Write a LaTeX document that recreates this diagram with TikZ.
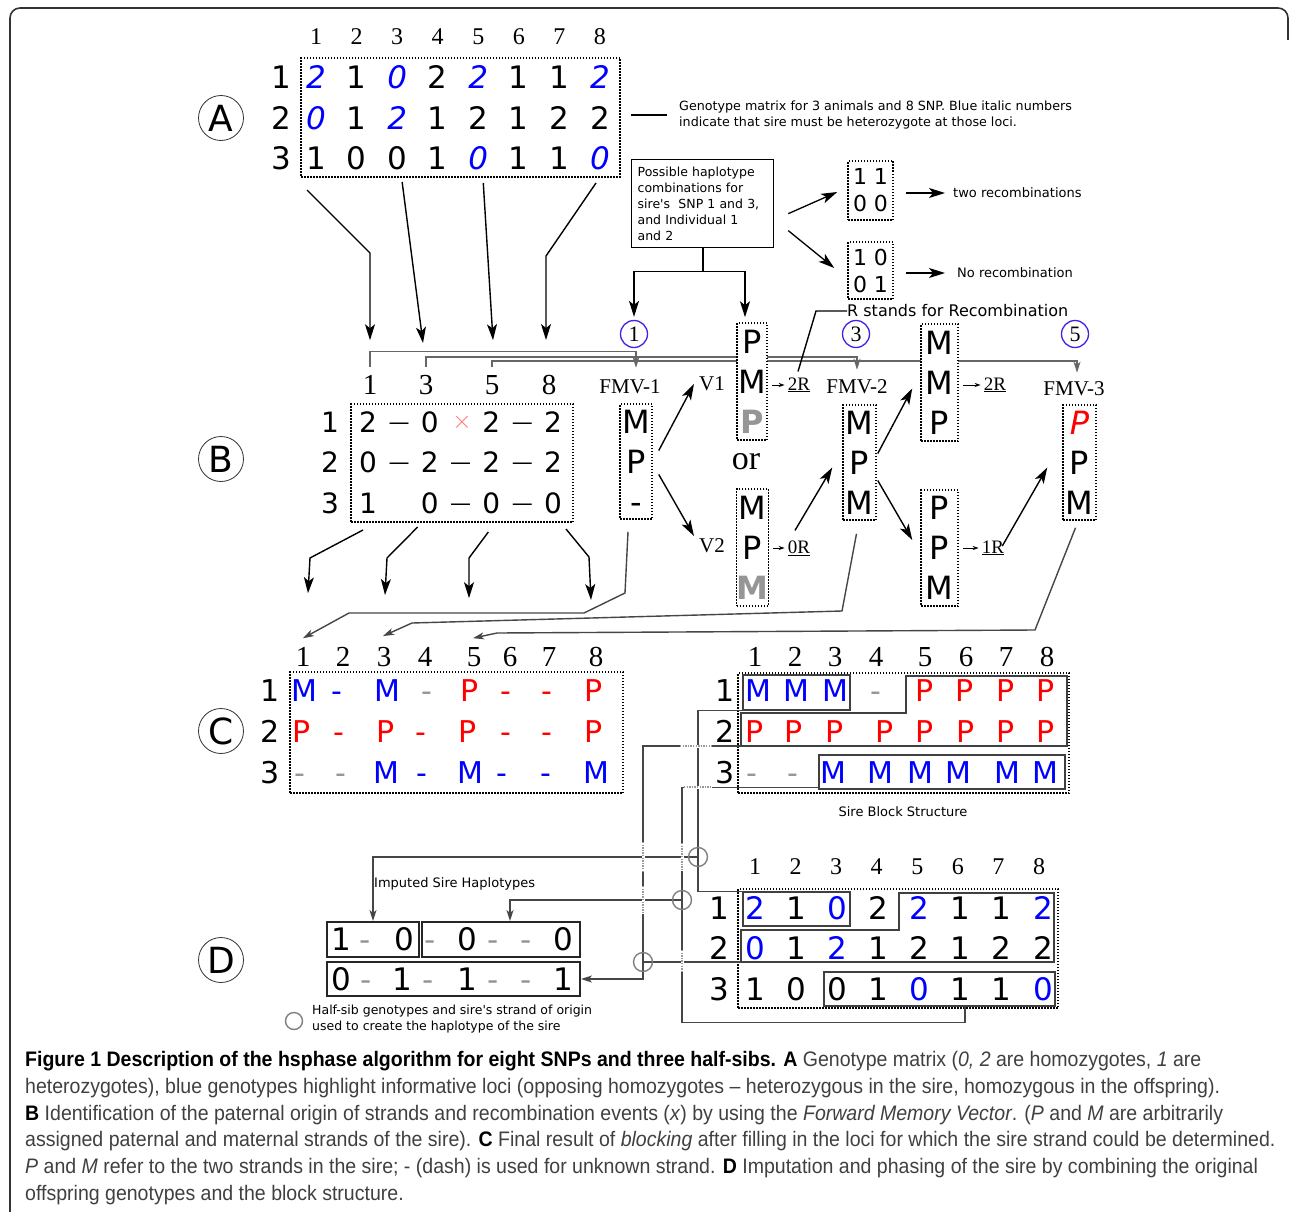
\documentclass[tikz,border=0pt]{standalone}
\usepackage{fontspec}
\setmainfont{Liberation Serif}
\newfontfamily\dvs{DejaVu Sans}
\newfontfamily\capf[FakeStretch=0.93]{Liberation Sans}
\usetikzlibrary{arrows.meta,calc}
\definecolor{lin}{RGB}{70,70,70}
\definecolor{gris}{RGB}{150,150,150}
\definecolor{numcirc}{RGB}{70,30,230}
\newcommand\fsz[1]{\fontsize{#1}{#1}\selectfont}
\newcommand\bi[1]{{\color{blue}\itshape #1}}
\newcommand\bu[1]{{\color{blue}#1}}
\newcommand\rd[1]{{\color{red}#1}}
\newcommand\gy[1]{{\color{gris}#1}}
\newcommand\gb[1]{{\color{gris}\bfseries #1}}
\newcommand\brg[2]{%
  \draw[white, line width=3pt] #1 -- #2;
  \draw[black!40, line width=1.3pt, dash pattern=on 1.3pt off 1.3pt] #1 -- #2;}
\tikzset{
  ent/.style={inner sep=0pt, font=\dvs\fsz{#1}, text height={0.729*#1pt}, text depth=0pt},
  ent/.default=31,
  hd/.style={inner sep=0pt, font=\fsz{#1}},
  hd/.default=24,
  matbox/.style={draw, line width=1.5pt, dash pattern=on 1.5pt off 1.5pt, inner sep=0pt},
  fmv/.style={matbox, fill=white, align=center, font=\dvs\fontsize{32}{40}\selectfont},
  blk/.style={draw=black!75, line width=1.5pt, inner sep=0pt},
  hap/.style={draw=black!85, line width=2pt, inner sep=0pt},
  lnk/.style={draw=lin, line width=1.4pt},
  arr/.style={-{Stealth[length=16pt,width=10pt,inset=4pt]}, line width=1.4pt},
  ltip/.style={-{Stealth[length=11pt,width=7pt,inset=3pt]}},
  sarr/.style={-{Stealth[length=6pt,width=4pt]}, line width=1pt},
  lett/.style={draw=black!80, circle, minimum size=45pt, inner sep=0pt, font=\dvs\fsz{36}, line width=0.8pt},
  num/.style={draw=numcirc, circle, minimum size=27pt, inner sep=0pt, font=\fsz{22}, line width=1.3pt},
  note/.style={inner sep=0pt, anchor=west, align=left, font=\dvs\fontsize{#1}{16.5}\selectfont},
  note/.default=12.7,
  ser/.style={inner sep=0pt, font=\fsz{#1}},
  ser/.default=21,
  ring/.style={draw=black!50, circle, minimum size=19pt, inner sep=0pt, line width=1.4pt},
}
\begin{document}
\begin{tikzpicture}[x=1pt,y=-1pt]
\useasboundingbox (0,0) rectangle (1290,1212);
\fill[white] (0,0) rectangle (1290,1212);
\draw[line width=1.6pt, black!80, rounded corners=10pt] (10,1230) -- (10,8) -- (1288,8) -- (1288,40);

% A: genotype matrix
\node[lett] (lA) at (221,118) {A};
\foreach \i in {1,...,8} \node[hd] (ah\i) at ({316+40.57*(\i-1)},37) {\i};
\node[matbox, minimum width=319pt, minimum height=119pt] (amat) at (460.5,117.5) {};
\foreach \y/\lst [count=\r] in {77/{\bi2,1,\bi0,2,\bi2,1,1,\bi2}, 118/{\bi0,1,\bi2,1,2,1,2,2}, 158/{1,0,0,1,\bi0,1,1,\bi0}} {
  \node[ent] (ar\r) at (281,\y) {\r};
  \foreach \v [count=\c] in \lst
    \node[ent] (a\r-\c) at ({316+40.57*(\c-1)},\y) {\v};
}
\node[note] (anote) at (679,115) {Genotype matrix for 3 animals and 8 SNP. Blue italic numbers\\indicate that sire must be heterozygote at those loci.};
\draw[line width=1.3pt] ($(amat.east |- anote.west)+(10,0)$) -- ($(anote.west)+(-12,0)$);

% B: headers, FMV labels and the lines that feed them
\node[lett] (lB) at (221,459) {B};
\foreach \n/\x in {1/370,3/426,5/492,8/549} \node[hd=29] (bh\n) at (\x,385) {\n};
\node[ser] (fmv1) at (630,387) {FMV-1};
\node[ser] (fmv2) at (857,387) {FMV-2};
\node[ser] (fmv3) at (1074,389) {FMV-3};
\node[num] (c1) at (634,334) {1};
\node[num] (c3) at (856,334) {3};
\node[num] (c5) at (1075,334) {5};
\draw[lnk, draw=black!60, ltip] ([yshift=8pt]bh1.north) -- ++(0,-16) -| ([xshift=6pt,yshift=12pt]fmv1.north);
\draw[lnk, draw=black!60, ltip] ([yshift=8pt]bh3.north) -- ++(0,-10) -| ([yshift=10pt]fmv2.north);
\draw[lnk, draw=black!60, ltip] ([yshift=8pt]bh5.north) -- ++(0,-6) -| ([xshift=3pt,yshift=9pt]fmv3.north);

\node[matbox, minimum width=222pt, minimum height=118pt] (bmat) at (462,463) {};
\foreach \y/\lst [count=\r] in {422/{2,0,2,2}, 462/{0,2,2,2}, 503/{1,0,0,0}} {
  \node[ent=28] (br\r) at (330,\y) {\r};
  \foreach \v [count=\c] in \lst
    \node[ent=28] (b\r-\c) at ({368+61.67*(\c-1)},\y) {\v};
}
\foreach \r/\c/\y in {1/1/422,1/3/422,2/1/462,2/2/462,2/3/462,3/2/503,3/3/503}
  \node[ent=21] (bd\r-\c) at ({399+61.67*(\c-1)},\y) {—};
\node[inner sep=0pt, text=red!55, font=\fsz{26}] (bx) at (462,422) {$\times$};

% forward memory vectors
\node[fmv, minimum width=32pt, minimum height=115pt] (f1) at (636,461.5) {M\\P\\{-}};
\node[fmv, minimum width=30pt, minimum height=117pt] (v1) at (752,381.5) {P\\M\\\gb{P}};
\node[fmv, minimum width=31pt, minimum height=117pt] (v2) at (752.5,547.5) {M\\P\\\gb{M}};
\node[fmv, minimum width=33pt, minimum height=115pt] (f2) at (859.5,462.5) {M\\P\\M};
\node[fmv, minimum width=37pt, minimum height=117pt] (u2) at (939.5,382.5) {M\\M\\P};
\node[fmv, minimum width=37pt, minimum height=116pt] (d2) at (939.5,548) {P\\P\\M};
\node[fmv, minimum width=33pt, minimum height=115pt] (f3) at (1079.5,462.5) {\rd{\itshape P}\\P\\M};
\node[ser] (vl1) at (712,384) {V1};
\node[ser] (vl2) at (712,546) {V2};
\node[ser=34] (orl) at (746,462) {or};
\node[ser=19] (r2a) at (799,385) {\underline{2R}};
\node[ser=19] (r0) at (799,548) {\underline{0R}};
\node[ser=19] (r2b) at (995,385) {\underline{2R}};
\node[ser=19] (r1) at (993,548) {\underline{1R}};
\draw[arr] ($(f1.east)+(6,-11)$) -- ($(vl1.west)+(-5,0)$);
\draw[arr] ($(f1.east)+(6,13)$) -- ($(vl2.west)+(-5,-10)$);
\draw[arr] ($(r0.north)+(-4,-10)$) -- ($(f2.west)+(-10,5)$);
\draw[arr] ($(f2.east)+(1,-9)$) -- ($(u2.west)+(-8,6)$);
\draw[arr] ($(f2.east)+(1,18)$) -- ($(d2.west)+(-8,-8)$);
\draw[arr] ($(r1.east)+(-2,-2)$) -- ($(f3.west)+(-15,5)$);
\foreach \bx/\lb in {v1/r2a, v2/r0, u2/r2b, d2/r1}
  \draw[sarr] (\bx.east |- \lb.west) ++(4,0) -- ($(\lb.west)+(-3,0)$);

% haplotype combinations
\node[draw, line width=1.3pt, anchor=north west, minimum width=142pt, minimum height=88pt, text width=130pt, inner xsep=6pt, inner ysep=0pt, align=left, font=\dvs\fontsize{12.5}{16}\selectfont] (hbox) at (631,159) {Possible haplotype\\combinations for\\sire's\ \ SNP 1 and 3,\\and Individual 1\\and 2};
\draw[line width=2pt] (hbox.south) -- ++(0,23) coordinate (hj);
\draw[arr, line width=1.3pt] (hj) -| ([yshift=3pt]c1.north);
\draw[arr, line width=1.3pt] (hj) -| ([xshift=-7pt,yshift=5pt]v1.north);
\node[matbox, minimum width=45pt, minimum height=59pt, align=center, font=\dvs\fontsize{22}{27}\selectfont] (sm1) at (870.5,190.5) {1 1\\0 0};
\node[matbox, minimum width=45pt, minimum height=57pt, align=center, font=\dvs\fontsize{22}{27}\selectfont] (sm2) at (870.5,270.5) {1 0\\0 1};
\draw[arr, line width=1.3pt] ($(hbox.east)+(14,10)$) -- ($(sm1.west)+(-10,1.5)$);
\draw[arr, line width=1.3pt] ($(hbox.east)+(14,27)$) -- ($(sm2.west)+(-13,-2.5)$);
\node[note=13] (tr1) at (953,193) {two recombinations};
\node[note=13] (tr2) at (957,273) {No recombination};
\draw[arr, line width=1.3pt] ($(tr1.west -| sm1.east)+(12,0)$) -- ($(tr1.west)+(-8,0)$);
\draw[arr, line width=1.3pt] ($(tr2.west -| sm2.east)+(12,0)$) -- ($(tr2.west)+(-12,0)$);
\node[note=16] (rnote) at (847,311) {R stands for Recombination};
\draw[line width=1.4pt] (rnote.west) -- ++(-31,0) -- ($(r2a.north)+(-1,-6)$);

% A -> B
\draw[arr] ($(a3-1)+(-9,32)$) -- (370,253) -- ($(bh1.north)+(0,-35)$);
\draw[arr] ($(a3-3)+(5,24)$) -- ($(bh3.north)+(-3,-32)$);
\draw[arr] ($(a3-5)+(5,25)$) -- ($(bh5.north)+(1,-35)$);
\draw[arr] ($(a3-8)+(-4,25)$) -- (546,256) -- ($(bh8.north)+(-3,-35)$);

% C: blocking
\node[lett] (lC) at (221,731) {C};
\foreach \x [count=\i] in {303,343,384,425,474,510,549,596} \node[hd=29] (ch\i) at (\x,657) {\i};
\node[matbox, minimum width=333pt, minimum height=121pt] (cmat) at (456.5,732.5) {};
\foreach \y/\lst [count=\r] in {
  691/{304/\bu M,337/\bu -,387/\bu M,427/\gy -,470/\rd P,506/\rd -,547/\rd -,594/\rd P},
  732/{302/\rd P,339/\rd -,386/\rd P,421/\rd -,468/\rd P,506/\rd -,547/\rd -,594/\rd P},
  773/{300/\gy -,341/\gy -,386/\bu M,422/\bu -,470/\bu M,502/\bu -,546/\bu -,596/\bu M}} {
  \node[ent=30] (cr\r) at (270,\y) {\r};
  \foreach \x/\v [count=\c] in \lst \node[ent=30] (c\r-\c) at (\x,\y) {\v};
}
\foreach \x [count=\i] in {755,795,835,876,925,966,1006,1047} \node[hd=29] (sh\i) at (\x,657) {\i};
\node[matbox, minimum width=331pt, minimum height=120pt] (smat) at (903.5,733) {};
\foreach \y/\lst [count=\r] in {
  691/{758/\bu M,796/\bu M,835/\bu M,876/\gy -,925/\rd P,965/\rd P,1006/\rd P,1046/\rd P},
  732/{755/\rd P,794/\rd P,835/\rd P,885/\rd P,925/\rd P,966/\rd P,1006/\rd P,1046/\rd P},
  773/{752/\gy -,793/\gy -,833/\bu M,880/\bu M,920/\bu M,958/\bu M,1007/\bu M,1045/\bu M}} {
  \node[ent=30] (sr\r) at (725,\y) {\r};
  \foreach \x/\v [count=\c] in \lst \node[ent=30] (s\r-\c) at (\x,\y) {\v};
}
\node[blk, minimum width=107pt, minimum height=35pt] (cb1) at (796.5,692.5) {};
\draw[blk] (741,713) -- (906,713) -- (906,676) -- (1067,676) -- (1067,746) -- (741,746) coordinate (cb2) -- cycle;
\node[blk, minimum width=246pt, minimum height=34pt] (cb3) at (942,772) {};
\node[note=13, anchor=center] (sbs) at (903,812) {Sire Block Structure};

% B -> C
\draw[arr] ($(b3-1)+(-5,27)$) -- (310,558) -- ($(ch1.north)+(5,-54)$);
\draw[arr] ($(b3-2)+(-12,24)$) -- (387,558) -- ($(ch3.north)+(1,-52)$);
\draw[arr] ($(b3-3)+(-3,29)$) -- (469,558) -- ($(ch5.north)+(-5,-49)$);
\draw[arr] ($(b3-4)+(13,26)$) -- (589,557) -- ($(ch8.north)+(-5,-47)$);
\draw[lnk, ltip] ($(f1.south)+(-8,12)$) -- (625,593) -- (584,613) -- (349,613) -- ($(ch1.north)+(0,-9)$);
\draw[lnk, ltip] ($(f2.south)+(-3,13)$) -- (842,611) -- (412,623) -- ($(ch3.north)+(-1,-11)$);
\draw[lnk, ltip] ($(f3.south)+(-4,7)$) -- (1035,630) -- (497,633) -- ($(ch5.north)+(-1,-9)$);

% D: imputation
\node[lett] (lD) at (221,960) {D};
\foreach \i in {1,...,8} \node[hd] (dh\i) at ({755+40.57*(\i-1)},867) {\i};
\node[matbox, minimum width=320pt, minimum height=119pt] (dmat) at (898,948.5) {};
\foreach \y/\lst [count=\r] in {908/{\bu2,1,\bu0,2,\bu2,1,1,\bu2}, 948/{\bu0,1,\bu2,1,2,1,2,2}, 989/{1,0,0,1,\bu0,1,1,\bu0}} {
  \node[ent] (dr\r) at (719,\y) {\r};
  \foreach \v [count=\c] in \lst
    \node[ent] (d\r-\c) at ({755+41.14*(\c-1)},\y) {\v};
}
\node[blk, minimum width=107pt, minimum height=34pt] (db1) at (796.5,909) {};
\draw[blk] (741,930) -- (899,930) -- (899,893) -- (1054,893) -- (1054,962) -- (741,962) coordinate (db2) -- cycle;
\node[blk, minimum width=231pt, minimum height=34pt] (db3) at (939.5,989) {};
\coordinate (db3b) at (db3.south -| 965,0);

\node[hap, minimum width=92pt, minimum height=35pt] (h1) at (373,939.5) {};
\node[hap, minimum width=158pt, minimum height=35pt] (h2) at (501,939.5) {};
\node[hap, minimum width=253pt, minimum height=34pt] (h3) at (453.5,979) {};
\foreach \x/\v [count=\c] in {341/1,365/\gy -,404/0} \node[ent] (ha\c) at (\x,939) {\v};
\foreach \x/\v [count=\c] in {430/\gy -,467/0,493/\gy -,526/\gy -,563/0} \node[ent] (hb\c) at (\x,939) {\v};
\foreach \x/\v [count=\c] in {341/0,366/\gy -,402/1,428/\gy -,467/1,493/\gy -,526/\gy -,563/1} \node[ent] (hc\c) at (\x,979) {\v};
\node[note=13] (ish) at (374,884) {Imputed Sire Haplotypes};
\node[ring, minimum size=17pt] (kL) at (294,1021) {};
\node[note=12.5] (lg) at (312,1019) {Half-sib genotypes and sire's strand of origin\\used to create the haplotype of the sire};

% C -> D links
\coordinate (k1) at (698,857);
\coordinate (k2) at (682,900);
\coordinate (k3) at (643,962);
\draw[lnk] (cb1.south west) -| (k1) |- (db1.north west);
\draw[lnk] (cb2) -| (k3);
\draw[lnk] (k3) -- (db2);
\draw[lnk] ([yshift=2pt]cb3.south west) -| (k2) |- ($(db3b)+(0,16)$) -- (db3b);
\draw[lnk, ltip] (k1) -| (h1.north);
\draw[lnk, ltip] (k2) -| ([xshift=9pt]h2.north);
\draw[lnk, ltip] (k3) |- (h3.east);
\brg{(643,842)}{(643,872)}
\brg{(643,886)}{(643,914)}
\brg{(680,746)}{(712,746)}
\brg{(684,787)}{(712,787)}
\brg{(682,843)}{(682,871)}
\brg{(682,950)}{(682,972)}
\node[ring] (r1k) at (k1) {};
\node[ring] (r2k) at (k2) {};
\node[ring] (r3k) at (k3) {};

% caption
\node[anchor=north west, inner sep=0pt, align=left, text=black!75, font=\capf\fontsize{21}{26.8}\selectfont] (cap) at (25,1051) {%
\textcolor{black}{\textbf{Figure 1 Description of the hsphase algorithm for eight SNPs and three half-sibs. A}} Genotype matrix (\textit{0, 2} are homozygotes, \textit{1} are\\
heterozygotes), blue genotypes highlight informative loci (opposing homozygotes – heterozygous in the sire, homozygous in the offspring).\\
\textcolor{black}{\textbf{B}} Identification of the paternal origin of strands and recombination events (\textit{x}) by using the \textit{Forward Memory Vector}. (\textit{P} and \textit{M} are arbitrarily\\
assigned paternal and maternal strands of the sire). \textcolor{black}{\textbf{C}} Final result of \textit{blocking} after filling in the loci for which the sire strand could be determined.\\
\textit{P} and \textit{M} refer to the two strands in the sire; - (dash) is used for unknown strand. \textcolor{black}{\textbf{D}} Imputation and phasing of the sire by combining the original\\
offspring genotypes and the block structure.};
\end{tikzpicture}
\end{document}
